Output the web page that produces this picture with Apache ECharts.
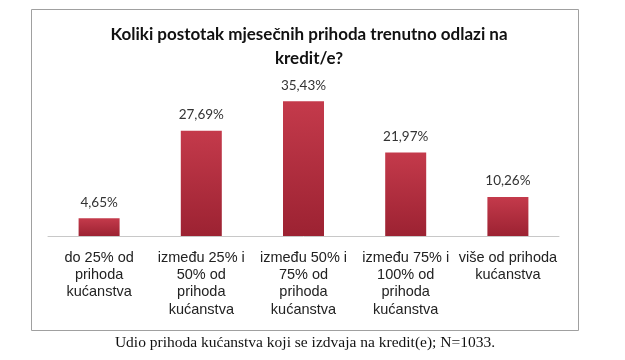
<!DOCTYPE html>
<html><head><meta charset="utf-8">
<script src="https://cdn.jsdelivr.net/npm/echarts@6/dist/echarts.min.js"></script>
<style>html,body{margin:0;padding:0;background:#fff}#c{width:625px;height:360px}</style>
</head><body><div id="c"></div>
<script>
const categories = ["do 25% od\nprihoda\nkućanstva", "između 25% i\n50% od\nprihoda\nkućanstva", "između 50% i\n75% od\nprihoda\nkućanstva", "između 75% i\n100% od\nprihoda\nkućanstva", "više od prihoda\nkućanstva"];
const values = [4.65, 27.69, 35.43, 21.97, 10.26];
const titleText = "Koliki postotak mjesečnih prihoda trenutno odlazi na\nkredit/e?";
const captionText = "Udio prihoda kućanstva koji se izdvaja na kredit(e); N=1033.";

const chart = echarts.init(document.getElementById('c'), null, {renderer: 'canvas'});
chart.setOption({
  backgroundColor: '#fff',
  animation: false,
  title: {
    text: titleText, left: 304, top: 18, textAlign: 'center',
    textStyle: {fontFamily: 'Lato', fontWeight: 'bold', fontSize: 17, color: '#111', lineHeight: 24}
  },
  grid: {left: 48, right: 66, top: 84, bottom: 124},
  xAxis: {
    type: 'category', data: categories,
    axisLine: {lineStyle: {color: '#c8c8c8', width: 1}},
    axisTick: {show: false},
    axisLabel: {interval: 0, margin: 13, fontFamily: 'Liberation Sans', fontSize: 14.5, lineHeight: 17.3, color: '#222', align: 'center'}
  },
  yAxis: {type: 'value', min: 0, max: 40, show: false, splitLine: {show: false}},
  series: [{
    type: 'bar', data: values, barWidth: 41,
    itemStyle: {color: new echarts.graphic.LinearGradient(0, 0, 0, 1, [{offset: 0, color: '#c43a4b'}, {offset: 1, color: '#9c2232'}])},
    label: {show: true, position: 'top', distance: 9, fontFamily: 'Lato', fontSize: 13.5, color: '#333',
      formatter: p => p.value.toFixed(2).replace('.', ',') + '%'}
  }],
  graphic: [
    {type: 'rect', shape: {x: 31.5, y: 9.5, width: 547, height: 321}, style: {fill: 'none', stroke: '#a0a0a0', lineWidth: 1}, z: -1},
    {type: 'text', x: 305, y: 343, style: {text: captionText, font: '15.5px "Liberation Serif"', fill: '#111', textAlign: 'center', textVerticalAlign: 'middle'}}
  ]
});
</script></body></html>
